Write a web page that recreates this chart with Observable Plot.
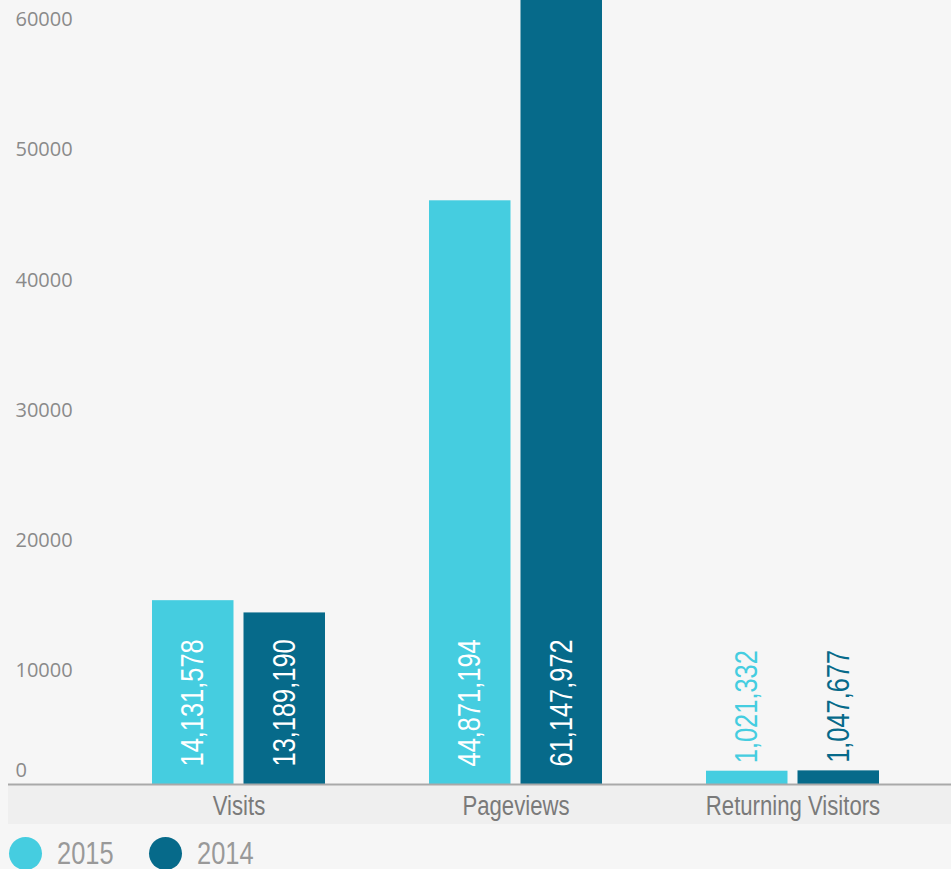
<!DOCTYPE html>
<html><head><meta charset="utf-8">
<script src="https://cdn.jsdelivr.net/npm/d3@7"></script>
<script src="https://cdn.jsdelivr.net/npm/@observablehq/plot@0.6"></script>
<style>
html,body{margin:0;padding:0;background:#f6f6f6;}
body{width:951px;height:869px;overflow:hidden;}
#legend{display:flex;align-items:center;height:54px;padding-left:9px;font-family:"Liberation Sans",Arial,sans-serif;font-size:31px;line-height:1;color:#999;}
.item{display:flex;align-items:center;}
.dot{width:33px;height:33px;border-radius:50%;margin-right:15px;flex:none;}
.lab{display:inline-block;line-height:1;transform:scaleX(0.82);transform-origin:left center;}
</style></head>
<body><div id="chart"></div><div id="legend"></div>
<script>
const categories = ["Visits", "Pageviews", "Returning Visitors"];
const years = ["2015", "2014"];
const values2015 = [14131.578, 44871.194, 1021.332];
const values2014 = [13189.190, 61147.972, 1047.677];
const yTicks = [0, 10000, 20000, 30000, 40000, 50000, 60000];
const colors = ["#45cde0", "#066a8a"];

const narrow = '"Liberation Sans",Arial,sans-serif';
const fmt = v => d3.format(",")(Math.round(v * 1000));
const rows2015 = categories.map((c, i) => ({category: c, year: years[0], value: values2015[i]}));
const rows2014 = categories.map((c, i) => ({category: c, year: years[1], value: values2014[i]}));
const fits = d => d.value > 5000;

const labelOpts = {x: "category", text: d => fmt(d.value), rotate: -90, textAnchor: "start", lineAnchor: "middle", fontSize: 31, fontFamily: narrow};
const tickOpts = {y: d => d, text: d => String(d), frameAnchor: "left", textAnchor: "start", dx: 7, fontSize: 20, fontFamily: '"Open Sans",sans-serif', fill: "#8a8a8a"};

const plot = Plot.plot({
  width: 951,
  height: 826,
  marginLeft: 8,
  marginRight: 0,
  marginTop: 3.5,
  marginBottom: 42,
  style: {background: "#f6f6f6", overflow: "visible"},
  x: {type: "band", domain: categories, range: [100, 931], padding: 0, axis: null, label: null},
  y: {domain: [0, 60000], range: [784, 3.5], axis: null},
  marks: [
    Plot.barY(rows2015, {x: "category", y: "value", fill: colors[0], insetLeft: 52, insetRight: 143.5}),
    Plot.barY(rows2014, {x: "category", y: "value", fill: colors[1], insetLeft: 143.5, insetRight: 52}),
    Plot.ruleY([0], {stroke: "#a9a9a9", strokeWidth: 2}),
    Plot.text(rows2015.filter(fits), {...labelOpts, y: 0, dx: -45.75, dy: -18, fill: "white"}),
    Plot.text(rows2014.filter(fits), {...labelOpts, y: 0, dx: 45.75, dy: -18, fill: "white"}),
    Plot.text(rows2015.filter(d => !fits(d)), {...labelOpts, y: "value", dx: -45.75, dy: -8, fill: colors[0]}),
    Plot.text(rows2014.filter(d => !fits(d)), {...labelOpts, y: "value", dx: 45.75, dy: -8, fill: colors[1]}),
    Plot.text(yTicks.filter(t => t > 0), {...tickOpts, dy: 16}),
    Plot.text(yTicks.filter(t => t === 0), {...tickOpts, dy: -13.5}),
    Plot.axisX({tickSize: 0, tickPadding: 11, fontSize: 27, fontFamily: narrow, color: "#7a7a7a", label: null})
  ]
});
d3.select(plot).insert("rect", ":first-child")
  .attr("x", 8).attr("y", 785).attr("width", 943).attr("height", 39).attr("fill", "#efefef");
document.getElementById("chart").appendChild(plot);

// condense Liberation Sans glyphs to a narrow face
d3.select(plot).selectAll("g[font-family*='Liberation'] text").each(function () {
  const len = this.getComputedTextLength();
  this.setAttribute("textLength", len * 0.82);
  this.setAttribute("lengthAdjust", "spacingAndGlyphs");
});

const legend = d3.select("#legend");
years.forEach((y, i) => {
  const it = legend.append("div").attr("class", "item").style("width", i === 0 ? "140px" : "120px");
  it.append("div").attr("class", "dot").style("background", colors[i]);
  it.append("span").attr("class", "lab").text(y);
});
</script></body></html>
